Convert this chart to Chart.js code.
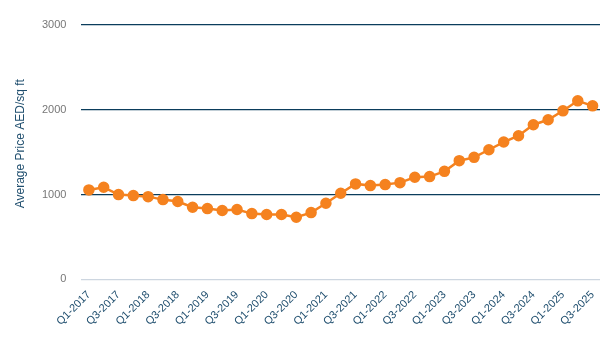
<!DOCTYPE html>
<html>
<head>
<meta charset="utf-8">
<script src="https://cdn.jsdelivr.net/npm/chart.js@4/dist/chart.umd.min.js"></script>
<style>
html,body{margin:0;padding:0;background:#fff;}
#wrap{width:600px;height:347px;position:relative;}
</style>
</head>
<body>
<div id="wrap"><canvas id="c"></canvas></div>
<script>
const quarters = [
  "Q1-2017","Q2-2017","Q3-2017","Q4-2017",
  "Q1-2018","Q2-2018","Q3-2018","Q4-2018",
  "Q1-2019","Q2-2019","Q3-2019","Q4-2019",
  "Q1-2020","Q2-2020","Q3-2020","Q4-2020",
  "Q1-2021","Q2-2021","Q3-2021","Q4-2021",
  "Q1-2022","Q2-2022","Q3-2022","Q4-2022",
  "Q1-2023","Q2-2023","Q3-2023","Q4-2023",
  "Q1-2024","Q2-2024","Q3-2024","Q4-2024",
  "Q1-2025","Q2-2025","Q3-2025"
];
const avgPrice = [
  1055, 1086, 1000, 988, 976, 941, 918, 851,
  835, 812, 824, 776, 765, 765, 733, 788,
  898, 1016, 1126, 1106, 1118, 1141, 1204, 1212,
  1274, 1400, 1439, 1529, 1620, 1694, 1824, 1882,
  1988, 2106, 2047
];
const yTicks = [0, 1000, 2000, 3000];
const yTitle = "Average Price AED/sq ft";

const yTitlePlugin = {
  id: 'yTitlePlugin',
  afterDraw(chart) {
    const ctx = chart.ctx;
    const area = chart.chartArea;
    ctx.save();
    ctx.fillStyle = '#1f4e6e';
    ctx.font = '12px "Liberation Sans", Arial, sans-serif';
    ctx.textAlign = 'center';
    ctx.textBaseline = 'middle';
    ctx.translate(21, (area.top + area.bottom) / 2 - 8.5);
    ctx.rotate(-Math.PI / 2);
    ctx.fillText(yTitle, 0, 0);
    ctx.restore();
  }
};

new Chart(document.getElementById('c'), {
  type: 'line',
  data: {
    labels: quarters,
    datasets: [{
      data: avgPrice,
      borderColor: '#f5821f',
      backgroundColor: '#f5821f',
      pointBackgroundColor: '#f5821f',
      pointBorderColor: '#f5821f',
      borderWidth: 2.5,
      pointRadius: 4.5,
      tension: 0,
      fill: false,
      clip: false
    }]
  },
  plugins: [yTitlePlugin],
  options: {
    responsive: true,
    maintainAspectRatio: false,
    animation: false,
    layout: { autoPadding: false, padding: { left: 27, right: 0, top: 25, bottom: 10 } },
    plugins: { legend: { display: false }, tooltip: { enabled: false } },
    scales: {
      x: {
        offset: true,
        grid: { display: false, drawTicks: false },
        border: { display: false },
        afterFit: (s) => { s.paddingRight = 0; },
        ticks: {
          autoSkip: false,
          maxRotation: 45,
          minRotation: 45,
          padding: 9,
          color: '#1f4e6e',
          font: { family: 'Liberation Sans, Arial, sans-serif', size: 11 },
          callback: function(v, i) { return i % 2 === 0 ? this.getLabelForValue(v) : ''; }
        }
      },
      y: {
        min: yTicks[0],
        max: yTicks[yTicks.length - 1],
        afterBuildTicks: (axis) => { axis.ticks = yTicks.map(v => ({ value: v })); },
        grid: {
          drawTicks: false,
          lineWidth: 1.2,
          color: (ctx) => ctx.tick && ctx.tick.value === 0 ? '#cdd6e0' : '#0b3d5c'
        },
        border: { display: false },
        ticks: {
          padding: 15,
          color: '#777777',
          font: { family: 'Liberation Sans, Arial, sans-serif', size: 11 },
          callback: (v) => String(v)
        },
        title: { display: false }
      }
    }
  }
});
</script>
</body>
</html>
